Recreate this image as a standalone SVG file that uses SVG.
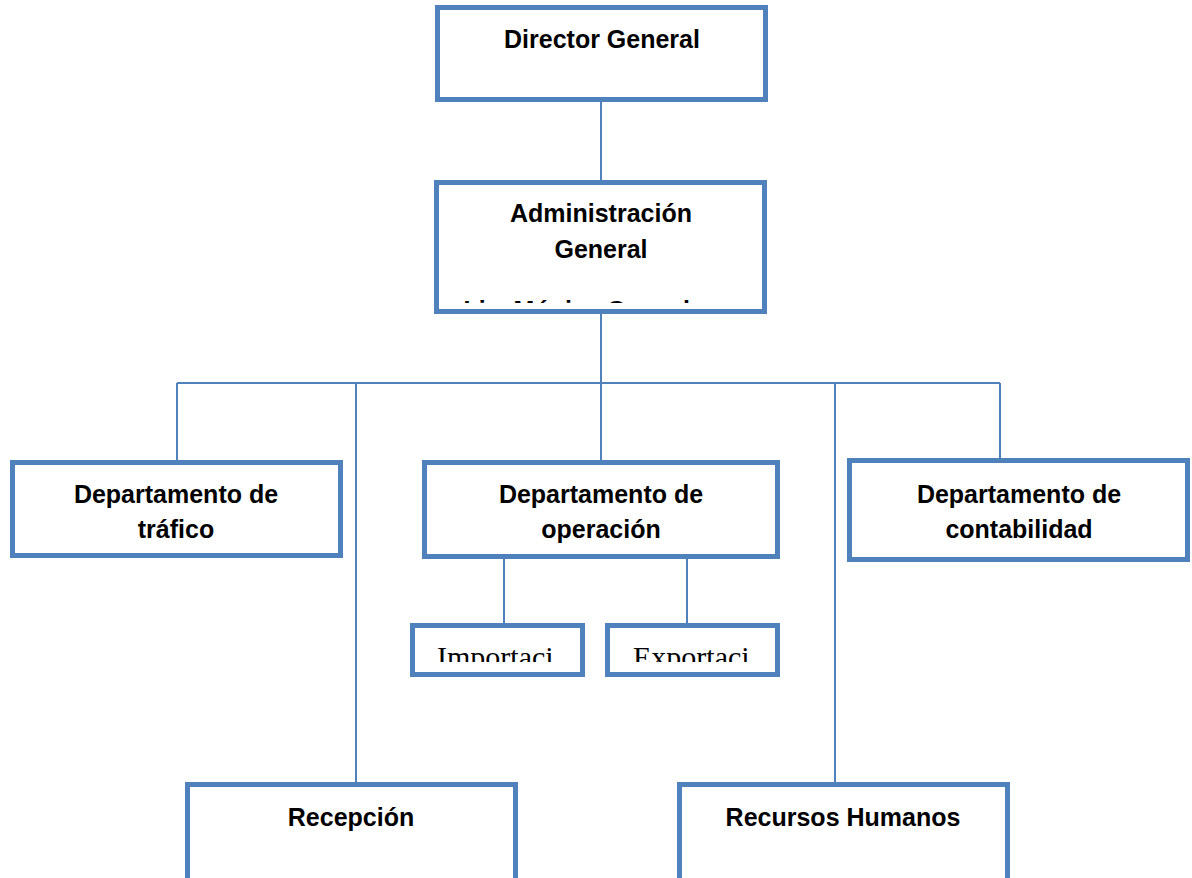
<svg xmlns="http://www.w3.org/2000/svg" width="1192" height="878" viewBox="0 0 1192 878">
<style>
.box{fill:#fff;stroke:#4F81BD;stroke-width:5}
.t{font-family:"Liberation Sans",Arial,sans-serif;font-weight:bold;font-size:25px;fill:#000;text-anchor:middle}
.s{font-family:"Liberation Serif","Times New Roman",serif;font-size:30px;fill:#000}
.c{fill:none;stroke:#4F81BD;stroke-width:2}
</style>
<defs>
<clipPath id="clipAdm"><rect x="440" y="186" width="322" height="117"/></clipPath>
<clipPath id="clipImp"><rect x="416" y="629" width="160" height="33"/></clipPath>
<clipPath id="clipExp"><rect x="611" y="629" width="160" height="33"/></clipPath>
</defs>
<rect width="1192" height="878" fill="#fff"/>
<g id="connectors">
<path class="c" d="M601 100V182"/>
<path class="c" d="M601 313V462"/>
<path class="c" d="M177 383H1000"/>
<path class="c" d="M177 383V461"/>
<path class="c" d="M356 383V783"/>
<path class="c" d="M835 383V783"/>
<path class="c" d="M1000 383V459"/>
<path class="c" d="M504 557V624"/>
<path class="c" d="M687 557V624"/>
</g>
<g id="director">
<rect class="box" x="437.5" y="7.5" width="328" height="92"/>
<text class="t" x="602" y="48">Director General</text>
</g>
<g id="administracion">
<rect class="box" x="436.5" y="182.5" width="328" height="129"/>
<text class="t" x="601" y="222">Administración</text>
<text class="t" x="601" y="258">General</text>
<g clip-path="url(#clipAdm)"><text class="t" x="590" y="319">Lic. Mónica Gonzalez</text></g>
</g>
<g id="trafico">
<rect class="box" x="12.5" y="462.5" width="328" height="93"/>
<text class="t" x="176" y="503">Departamento de</text>
<text class="t" x="176" y="538">tráfico</text>
</g>
<g id="operacion">
<rect class="box" x="424.5" y="462.5" width="353" height="94"/>
<text class="t" x="601" y="503">Departamento de</text>
<text class="t" x="601" y="538">operación</text>
</g>
<g id="contabilidad">
<rect class="box" x="849.5" y="460.5" width="338" height="99"/>
<text class="t" x="1019" y="503">Departamento de</text>
<text class="t" x="1019" y="538">contabilidad</text>
</g>
<g id="importacion">
<rect class="box" x="412.5" y="625.5" width="170" height="49"/>
<g clip-path="url(#clipImp)"><text class="s" x="437" y="667">Importaci</text></g>
</g>
<g id="exportacion">
<rect class="box" x="607.5" y="625.5" width="170" height="49"/>
<g clip-path="url(#clipExp)"><text class="s" x="633" y="667">Exportaci</text></g>
</g>
<g id="recepcion">
<rect class="box" x="187.5" y="784.5" width="328" height="110"/>
<text class="t" x="351" y="826">Recepción</text>
</g>
<g id="rrhh">
<rect class="box" x="679.5" y="784.5" width="328" height="110"/>
<text class="t" x="843" y="826">Recursos Humanos</text>
</g>
</svg>
